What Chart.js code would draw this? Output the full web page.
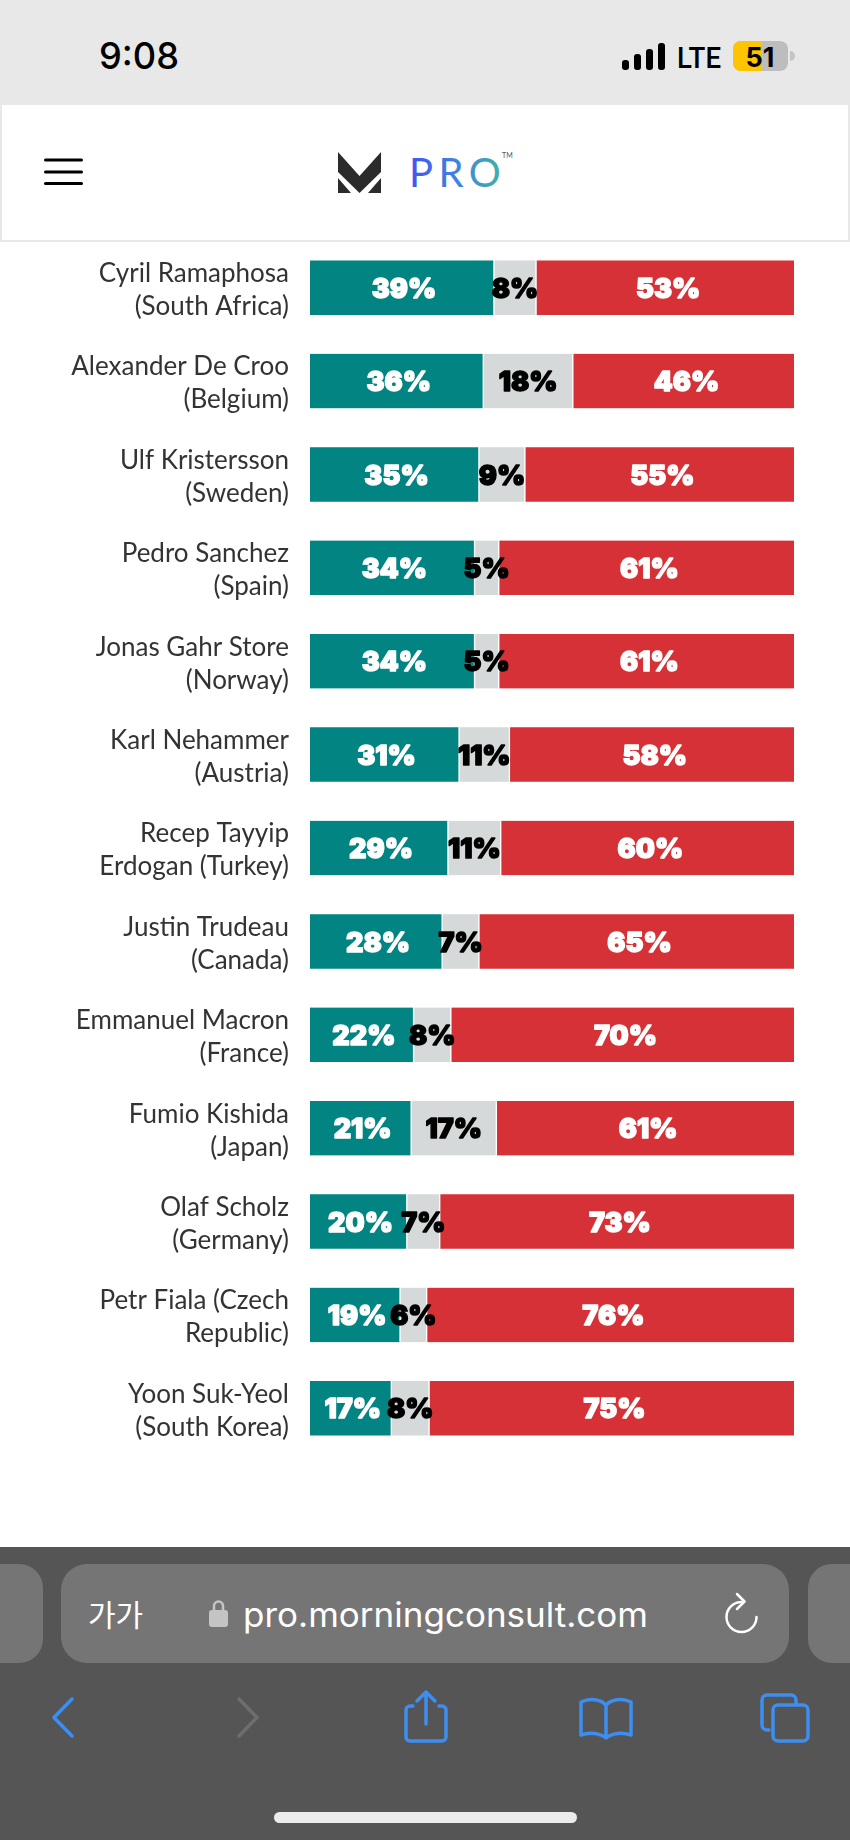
<!DOCTYPE html>
<html>
<head>
<meta charset="utf-8">
<script src="https://cdn.jsdelivr.net/npm/chart.js@4"></script>
<style>
html,body{margin:0;padding:0;background:#fff;width:850px;height:1840px;overflow:hidden}
#stage{position:relative;width:850px;height:1840px;overflow:hidden}
#chrome,#c{position:absolute;left:0;top:0}
</style>
</head>
<body>
<div id="stage">
<svg id="chrome" width="850" height="1840" viewBox="0 0 850 1840" xmlns="http://www.w3.org/2000/svg">
  <defs>
    <linearGradient id="pro" x1="410" x2="500" y1="0" y2="0" gradientUnits="userSpaceOnUse">
      <stop offset="0" stop-color="#4255f0"/><stop offset="0.55" stop-color="#3d86e0"/><stop offset="1" stop-color="#3fb0a8"/>
    </linearGradient>
  </defs>
  <rect x="0" y="0" width="850" height="105" fill="#e8e8e8"/>
  <rect x="0" y="105" width="2" height="136" fill="#e8e8e8"/>
  <rect x="848" y="105" width="2" height="136" fill="#e8e8e8"/>
  <rect x="0" y="240" width="850" height="2" fill="#e8e8e8"/>
  <text x="99" y="69" font-family="Inter, Roboto, sans-serif" font-size="37" font-weight="500" fill="#000" textLength="80" lengthAdjust="spacingAndGlyphs">9:08</text>
  <g fill="#000">
    <rect x="622" y="60" width="7" height="10" rx="3"/><rect x="634" y="54" width="7" height="16" rx="3"/>
    <rect x="646" y="49" width="7" height="21" rx="3"/><rect x="658" y="43" width="7" height="27" rx="3"/>
  </g>
  <text x="677" y="68" font-family="Roboto, sans-serif" font-size="30" font-weight="500" fill="#000" textLength="44" lengthAdjust="spacingAndGlyphs">LTE</text>
  <rect x="733" y="41" width="55" height="30" rx="8" fill="#bdbdbd"/>
  <path d="M741 41h21v30h-21a8 8 0 0 1-8-8v-14a8 8 0 0 1 8-8z" fill="#fdc500"/>
  <path d="M790 51a5 5 0 0 1 0 10z" fill="#c4c4c4"/>
  <text x="760" y="67" text-anchor="middle" font-family="Inter, Roboto, sans-serif" font-size="27" font-weight="700" fill="#000">51</text>

  <g fill="#000"><rect x="44" y="158.5" width="39" height="3" rx="1.5"/><rect x="44" y="170.5" width="39" height="3" rx="1.5"/><rect x="44" y="182" width="39" height="3" rx="1.5"/></g>
  <path d="M338 152 L359.500 176 L381 152 L381 172 L359.500 193 L338 172 Z" fill="#2b2b2b"/>
  <path d="M338 178 L351 193 L338 193 Z M381 178 L368 193 L381 193 Z" fill="#2b2b2b"/>
  <text x="409" y="187" font-family="Lato, sans-serif" font-size="40" font-weight="400" letter-spacing="5.500" fill="url(#pro)">PRO</text>
  <text x="502" y="158" font-family="Lato, sans-serif" font-size="7" fill="#555">TM</text>

  <rect x="0" y="1547" width="850" height="293" fill="#555555"/>
  <rect x="-40" y="1564" width="83" height="99" rx="24" fill="#757575"/>
  <rect x="61" y="1564" width="728" height="99" rx="26" fill="#757575"/>
  <rect x="808" y="1564" width="90" height="99" rx="24" fill="#757575"/>
  <text x="88" y="1626" font-family="'Noto Sans CJK KR', sans-serif" font-size="30" fill="#fff">가가</text>
  <path d="M214 1610v-4a4.500 4.500 0 0 1 9 0v4" fill="none" stroke="#c4c4c4" stroke-width="2.500"/>
  <rect x="209" y="1610" width="19" height="17" rx="3" fill="#c4c4c4"/>
  <text x="243" y="1627" font-family="Inter, Roboto, sans-serif" font-size="33.500" fill="#fff" textLength="405" lengthAdjust="spacingAndGlyphs">pro.morningconsult.com</text>
  <path d="M756.500 1617 A15 15 0 1 1 741.500 1602" fill="none" stroke="#fff" stroke-width="2.500" stroke-linecap="round"/>
  <path d="M737 1594l7.500 7.500-7.500 7.500" fill="none" stroke="#fff" stroke-width="2.500" stroke-linecap="round" stroke-linejoin="round"/>

  <g fill="none" stroke-width="3.500" stroke-linecap="round" stroke-linejoin="round">
    <path d="M72 1699 L54 1717.500 L72 1736" stroke="#3d8ef0"/>
    <path d="M239 1699 L257 1717.500 L239 1736" stroke="#6e6e6e"/>
    <g stroke="#3d8ef0">
      <path d="M413 1706h-3a4 4 0 0 0-4 4v27a4 4 0 0 0 4 4h32a4 4 0 0 0 4-4v-27a4 4 0 0 0-4-4h-3"/>
      <path d="M426 1724V1693M417 1701l9-9 9 9"/>
      <path d="M606 1738c-6-5-16-6-25-3v-33c9-4 19-3 25 3c6-6 16-7 25-3v33c-9-3-19-2-25 3zM606 1705v33"/>
      <path d="M769 1730h-2a5 5 0 0 1-5-5v-25a5 5 0 0 1 5-5h24a5 5 0 0 1 5 5v4"/>
      <rect x="773" y="1705" width="35" height="36" rx="5"/>
    </g>
  </g>
  <rect x="274" y="1812" width="303" height="11" rx="5.500" fill="#ececec"/>
</svg>
<canvas id="c" width="850" height="1840"></canvas>
</div>
<script>
// Leaders, as printed in the reference (two-line tick labels)
const leaders = [
  ["Cyril Ramaphosa", "(South Africa)"],
  ["Alexander De Croo", "(Belgium)"],
  ["Ulf Kristersson", "(Sweden)"],
  ["Pedro Sanchez", "(Spain)"],
  ["Jonas Gahr Store", "(Norway)"],
  ["Karl Nehammer", "(Austria)"],
  ["Recep Tayyip", "Erdogan (Turkey)"],
  ["Justin Trudeau", "(Canada)"],
  ["Emmanuel Macron", "(France)"],
  ["Fumio Kishida", "(Japan)"],
  ["Olaf Scholz", "(Germany)"],
  ["Petr Fiala (Czech", "Republic)"],
  ["Yoon Suk-Yeol", "(South Korea)"]
];

// Percentages printed on the bars
const approveLabels    = [39, 36, 35, 34, 34, 31, 29, 28, 22, 21, 20, 19, 17];
const dontKnowLabels   = [ 8, 18,  9,  5,  5, 11, 11,  7,  8, 17,  7,  6,  8];
const disapproveLabels = [53, 46, 55, 61, 61, 58, 60, 65, 70, 61, 73, 76, 75];

// Segment lengths as drawn (in the reference they differ slightly from the printed figures)
const approveLengths    = [38.0, 35.8, 34.9, 34.0, 34.0, 30.8, 28.5, 27.3, 21.4, 20.9, 20.0, 18.6, 16.8];
const dontKnowLengths   = [ 8.7, 18.5,  9.5,  5.0,  5.0, 10.4, 10.9,  7.6,  7.7, 17.6,  6.8,  5.5,  7.8];
const disapproveLengths = [53.3, 45.7, 55.6, 61.0, 61.0, 58.8, 60.6, 65.1, 70.9, 61.5, 73.2, 75.9, 75.4];

const TEAL = "#028482", GREY = "#d6d9d9", RED = "#d63136";
const heavyFont = "900 27px Inter, Lato, sans-serif";

const segmentLabels = {
  id: "segmentLabels",
  afterDatasetsDraw(chart) {
    const ctx = chart.ctx;
    ctx.save();
    ctx.font = heavyFont;
    ctx.textAlign = "center";
    ctx.textBaseline = "middle";
    ctx.lineJoin = "round";
    chart.data.datasets.forEach((ds, di) => {
      chart.getDatasetMeta(di).data.forEach((bar, i) => {
        const p = bar.getProps(["x", "base", "y"], true);
        const tx = (p.x + p.base) / 2 + ds.labelShift;
        const txt = ds.printed[i] + "%";
        ctx.fillStyle = ds.labelColor;
        ctx.strokeStyle = ds.labelColor;
        ctx.lineWidth = 1.4;
        ctx.strokeText(txt, tx, p.y + 2);
        ctx.fillText(txt, tx, p.y + 2);
      });
    });
    ctx.restore();
  }
};

const thickness = 54.5;
new Chart(document.getElementById("c"), {
  type: "bar",
  plugins: [segmentLabels],
  data: {
    labels: leaders,
    datasets: [
      { label: "Approve", data: approveLengths, printed: approveLabels, labelColor: "#fff", labelShift: 2, backgroundColor: TEAL,
        borderColor: "#fff", borderSkipped: false, borderWidth: {left: 0, right: 1, top: 0, bottom: 0}, barThickness: thickness },
      { label: "Don't know", data: dontKnowLengths, printed: dontKnowLabels, labelColor: "#000", labelShift: 0, backgroundColor: GREY,
        borderColor: "#fff", borderSkipped: false, borderWidth: {left: 1, right: 1, top: 0, bottom: 0}, barThickness: thickness },
      { label: "Disapprove", data: disapproveLengths, printed: disapproveLabels, labelColor: "#fff", labelShift: 3, backgroundColor: RED,
        borderColor: "#fff", borderSkipped: false, borderWidth: {left: 1, right: 0, top: 0, bottom: 0}, barThickness: thickness }
    ]
  },
  options: {
    indexAxis: "y",
    responsive: false,
    animation: false,
    layout: { padding: { top: 241, bottom: 385, left: 0, right: 56 } },
    plugins: { legend: { display: false }, tooltip: { enabled: false }, title: { display: false } },
    scales: {
      x: { stacked: true, min: 0, max: 100, display: false },
      y: {
        stacked: true,
        grid: { display: false, drawTicks: false },
        border: { display: false },
        afterFit(scale) { scale.width = 310; },
        ticks: {
          autoSkip: false,
          padding: 21,
          labelOffset: 2.5,
          color: "#333333",
          font: { family: "Lato, sans-serif", size: 26, weight: "400", lineHeight: 1.27 }
        }
      }
    }
  }
});
</script>
</body>
</html>
